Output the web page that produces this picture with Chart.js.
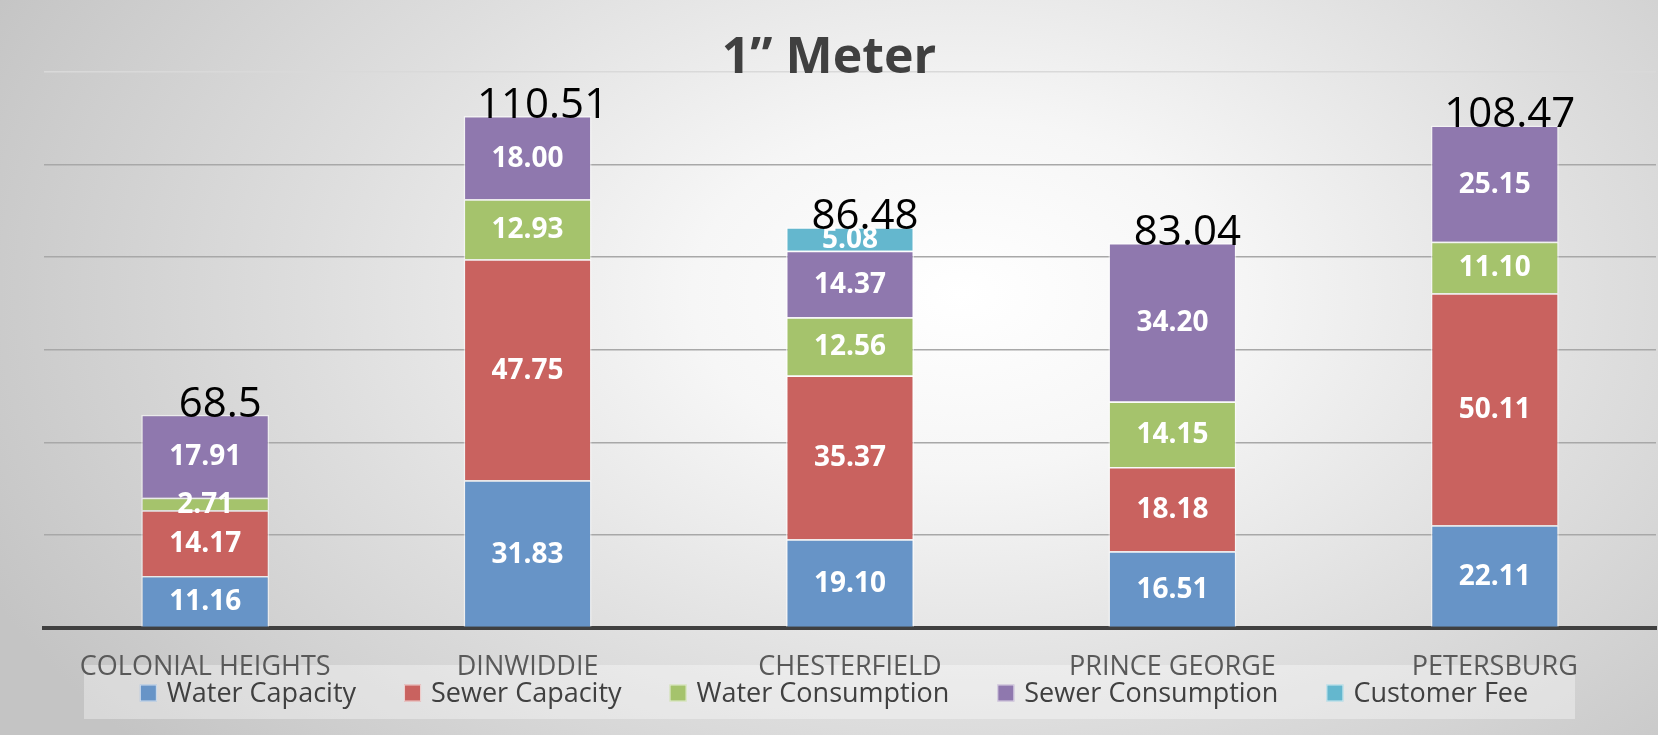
<!DOCTYPE html>
<html><head><meta charset="utf-8">
<script src="https://cdn.jsdelivr.net/npm/chart.js@4.4.1/dist/chart.umd.min.js"></script>
<style>
html,body{margin:0;padding:0;width:1658px;height:735px;overflow:hidden;}
body{background: radial-gradient(ellipse 65% 95% at 58% 40%, #ffffff 0%, #f6f6f6 25%, #dedede 60%, #c4c4c4 100%);}
#wrap{position:relative;width:1658px;height:735px;}
canvas{display:block;}
</style></head><body>
<div id="wrap"><canvas id="c" width="1658" height="735"></canvas></div>
<script>
const categories = ['COLONIAL HEIGHTS','DINWIDDIE','CHESTERFIELD','PRINCE GEORGE','PETERSBURG'];
const waterCapacity = [11.16, 31.83, 19.10, 16.51, 22.11];
const sewerCapacity = [14.17, 47.75, 35.37, 18.18, 50.11];
const waterConsumption = [2.71, 12.93, 12.56, 14.15, 11.10];
const sewerConsumption = [17.91, 18.00, 14.37, 34.20, 25.15];
const customerFee = [0, 0, 5.08, 0, 0];
const totalLabels = ['68.5', '110.51', '86.48', '83.04', '108.47'];
const seriesNames = ['Water Capacity','Sewer Capacity','Water Consumption','Sewer Consumption','Customer Fee'];
const chartTitle = '1\u201D Meter';

const seriesColors = ['#6794C7','#C9625F','#A5C36C','#8F78AE','#64B7CE'];
const seriesValues = [waterCapacity, sewerCapacity, waterConsumption, sewerConsumption, customerFee];

const FONT = '"Open Sans", "Liberation Sans", sans-serif';

const decorPlugin = {
  id: 'decor',
  beforeDraw(chart) {
    const ctx = chart.ctx;
    ctx.save();
    ctx.fillStyle = 'rgba(255,255,255,0.35)';
    ctx.fillRect(84, 665, 1491, 54);
    ctx.restore();
  },
  afterDatasetsDraw(chart) {
    const ctx = chart.ctx;
    ctx.save();
    ctx.textAlign = 'center';
    ctx.textBaseline = 'middle';
    ctx.font = 'bold 28px ' + FONT;
    ctx.fillStyle = '#ffffff';
    chart.data.datasets.forEach((ds, i) => {
      const meta = chart.getDatasetMeta(i);
      meta.data.forEach((bar, j) => {
        const v = ds.data[j];
        if (!v) return;
        ctx.fillText(v.toFixed(2), bar.x, (bar.y + bar.base) / 2 + 1);
      });
    });
    ctx.font = '42px ' + FONT;
    ctx.fillStyle = '#000000';
    ctx.textBaseline = 'alphabetic';
    categories.forEach((c, j) => {
      let top = Infinity, x = 0;
      chart.data.datasets.forEach((ds, i) => {
        const b = chart.getDatasetMeta(i).data[j];
        if (ds.data[j] > 0) { top = Math.min(top, b.y); x = b.x; }
      });
      ctx.fillText(totalLabels[j], x + 15, top + 2);
    });
    ctx.restore();
  },
  afterDraw(chart) {
    const ctx = chart.ctx;
    ctx.save();
    ctx.font = 'bold 50px ' + FONT;
    ctx.fillStyle = '#404040';
    ctx.textAlign = 'center';
    ctx.textBaseline = 'middle';
    ctx.fillText(chartTitle, 829, 59);
    ctx.font = '27px ' + FONT;
    const box = 17, gapIn = 10, gapOut = 48;
    const widths = seriesNames.map(n => ctx.measureText(n).width);
    const total = widths.reduce((a, w) => a + box + gapIn + w, 0) + gapOut * (seriesNames.length - 1);
    let x = 834 - total / 2;
    const cy = 693;
    ctx.textAlign = 'left';
    seriesNames.forEach((n, i) => {
      ctx.fillStyle = seriesColors[i];
      ctx.fillRect(x, cy - box / 2, box, box);
      ctx.strokeStyle = 'rgba(255,255,255,0.7)';
      ctx.lineWidth = 1;
      ctx.strokeRect(x + 0.5, cy - box / 2 + 0.5, box - 1, box - 1);
      ctx.fillStyle = '#404040';
      ctx.fillText(n, x + box + gapIn, cy + 1);
      x += box + gapIn + widths[i] + gapOut;
    });
    ctx.restore();
  }
};

new Chart(document.getElementById('c'), {
  type: 'bar',
  data: {
    labels: categories,
    datasets: seriesNames.map((name, i) => ({
      label: name,
      data: seriesValues[i],
      backgroundColor: seriesColors[i],
      borderColor: 'rgba(255,255,255,0.55)',
      borderWidth: (c) => (c.raw ? 1.5 : 0),
      categoryPercentage: 1,
      barPercentage: 0.397
    }))
  },
  options: {
    responsive: false,
    animation: false,
    devicePixelRatio: 1,
    layout: { padding: { left: 44, right: 2, top: 72, bottom: 27 } },
    plugins: { legend: { display: false }, title: { display: false }, tooltip: { enabled: false } },
    scales: {
      x: {
        stacked: true,
        grid: { display: false, drawTicks: false },
        border: { display: true, color: '#404040', width: 4 },
        ticks: { color: '#595959', font: { family: FONT, size: 27 }, padding: 24, maxRotation: 0, autoSkip: false }
      },
      y: {
        stacked: true,
        min: 0, max: 120,
        ticks: { display: false, stepSize: 20 },
        grid: { color: (c) => (c.tick && c.tick.value === 120 ? '#d9d9d9' : '#a8a8a8'), lineWidth: 1.5, drawTicks: false },
        border: { display: false }
      }
    }
  },
  plugins: [decorPlugin]
});
</script>
</body></html>
